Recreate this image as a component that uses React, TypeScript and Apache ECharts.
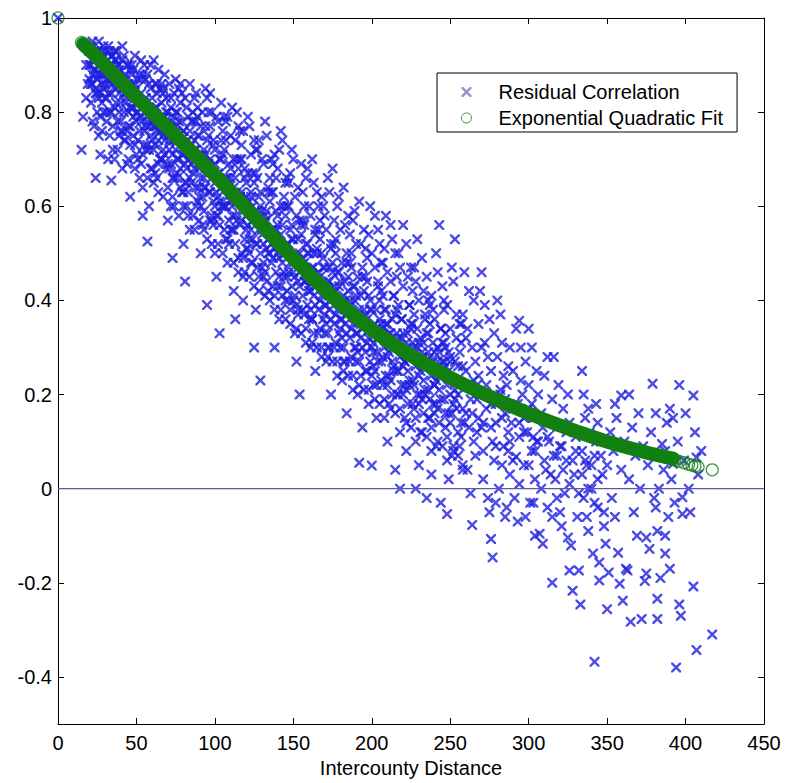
import React, { useEffect, useRef } from 'react';
import * as echarts from 'echarts';

const xTicks = [0, 50, 100, 150, 200, 250, 300, 350, 400, 450];
const yTicks = [-0.4, -0.2, 0, 0.2, 0.4, 0.6, 0.8, 1];

// Residual correlation samples: [distance, correlation]
const residualNear: number[][] = [
  [0,1],[16,.79],[15,.72],[18,.9],[19,.86],[20,.93],[21,.82],[22,.88],[23,.91],[24,.84],[24,.66],[17,.94],[22,.95],[25,.8],[20,.87],[23,.77],[18,.83],[25,.93],[21,.9],
  [26,.95],[27,.88],[28,.82],[29,.92],[30,.86],[31,.78],[32,.94],[33,.9],[34,.655],[34,.84],[26,.75],[28,.91],[30,.93],[31,.87],[33,.8],[35,.72],[29,.85],[27,.79],[32,.89],[35,.92],
  [36,.93],[37,.85],[38,.78],[39,.9],[40,.82],[41,.94],[42,.87],[43,.74],[44,.9],[45,.8],[36,.7],[38,.88],[40,.76],[41,.91],[43,.84],[44,.69],[39,.8],[42,.92],[37,.91],[45,.86],
  [46,.62],[46,.89],[47,.81],[48,.75],[49,.92],[50,.85],[51,.7],[52,.88],[53,.78],[54,.58],[54,.82],[55,.9],[47,.86],[49,.73],[50,.8],[52,.66],[53,.91],[55,.76],[48,.84],[51,.87],[46,.77],
  [56,.87],[57,.525],[57,.79],[58,.72],[59,.9],[60,.83],[61,.65],[62,.86],[63,.76],[64,.89],[65,.7],[56,.8],[58,.6],[60,.78],[61,.91],[63,.84],[64,.74],[59,.68],[62,.81],[65,.85],[57,.88],
  [66,.82],[67,.75],[68,.88],[69,.68],[70,.8],[71,.86],[72,.6],[73,.49],[73,.78],[74,.84],[75,.72],[66,.7],[68,.79],[70,.57],[71,.74],[72,.83],[74,.66],[75,.87],[67,.85],[69,.77],[73,.71],
  [76,.8],[77,.7],[78,.86],[79,.63],[80,.76],[81,.44],[81,.83],[82,.68],[83,.79],[84,.55],[85,.73],[76,.66],[78,.74],[79,.84],[80,.6],[82,.81],[83,.7],[84,.86],[85,.65],[77,.78],[80,.52],
  [86,.78],[87,.68],[88,.84],[89,.61],[90,.75],[91,.5],[92,.8],[93,.66],[94,.71],[95,.39],[95,.83],[86,.58],[88,.72],[89,.81],[90,.64],[91,.77],[93,.55],[94,.85],[87,.74],[92,.69],
  [96,.75],[97,.63],[98,.8],[99,.56],[100,.72],[101,.45],[102,.78],[103,.33],[103,.67],[104,.82],[105,.6],[96,.68],[97,.84],[99,.74],[100,.5],[101,.79],[102,.62],[104,.7],[105,.76],[98,.58]
];

const residualMid: number[][] = [
  [106,.72],[107,.6],[108,.79],[109,.52],[110,.68],[111,.81],[112,.42],[113,.74],[114,.63],[115,.77],[106,.55],[108,.66],[110,.75],[111,.58],[112,.7],[113,.36],[114,.8],[115,.49],[107,.78],[109,.64],
  [116,.7],[117,.57],[118,.76],[119,.46],[120,.65],[121,.79],[122,.53],[123,.71],[124,.6],[125,.3],[125,.74],[116,.62],[118,.4],[119,.68],[120,.55],[122,.77],[123,.63],[124,.48],[117,.73],[121,.67],
  [126,.67],[127,.52],[128,.74],[129,.23],[129,.6],[130,.7],[131,.45],[132,.78],[133,.57],[134,.64],[135,.5],[126,.38],[127,.72],[128,.62],[130,.55],[131,.69],[133,.75],[134,.42],[135,.66],[132,.58],
  [136,.63],[137,.49],[138,.71],[139,.55],[140,.68],[141,.36],[142,.6],[143,.74],[144,.45],[145,.65],[136,.52],[138,.3],[139,.66],[140,.58],[141,.72],[143,.51],[144,.62],[145,.4],[137,.69],[142,.76],
  [146,.6],[147,.46],[148,.67],[149,.53],[150,.7],[151,.33],[152,.58],[153,.64],[154,.2],[154,.5],[155,.69],[146,.42],[148,.55],[149,.72],[150,.48],[151,.62],[153,.38],[155,.56],[147,.65],[152,.27],
  [156,.57],[157,.44],[158,.66],[159,.5],[160,.6],[161,.3],[162,.7],[163,.47],[164,.55],[165,.63],[156,.38],[158,.52],[159,.68],[160,.42],[161,.58],[163,.65],[164,.25],[165,.5],[157,.6],[162,.36],
  [166,.55],[167,.4],[168,.62],[169,.47],[170,.58],[171,.27],[172,.66],[173,.44],[174,.52],[175,.68],[166,.33],[168,.5],[169,.6],[170,.37],[171,.55],[173,.63],[174,.2],[175,.46],[167,.57],[172,.3],
  [176,.52],[177,.37],[178,.6],[179,.43],[180,.55],[181,.23],[182,.64],[183,.4],[184,.5],[185,.58],[176,.3],[178,.46],[179,.62],[180,.34],[181,.48],[183,.56],[184,.16],[185,.42],[177,.53],[182,.27],
  [186,.48],[187,.34],[188,.57],[189,.4],[190,.52],[191,.2],[192,.61],[193,.36],[194,.47],[195,.55],[186,.27],[188,.43],[189,.59],[190,.3],[191,.45],[192,.055],[193,.52],[194,.13],[195,.38],[187,.5],
  [196,.45],[197,.31],[198,.54],[199,.38],[200,.049],[200,.5],[201,.22],[202,.58],[203,.34],[204,.44],[205,.52],[196,.25],[198,.41],[199,.6],[201,.29],[202,.47],[203,.15],[204,.55],[205,.36],[197,.49]
];

const residualFar: number[][] = [
  [206,.42],[207,.28],[208,.51],[209,.35],[210,.46],[211,.18],[212,.56],[213,.31],[214,.41],[215,.5],[206,.23],[208,.38],[209,.58],[210,.1],[211,.33],[212,.44],[213,.53],[214,.26],[215,.04],[207,.48],
  [216,.38],[217,.25],[218,0],[218,.47],[219,.32],[220,.43],[221,.15],[222,.52],[223,.29],[224,.39],[225,.47],[216,.2],[219,.36],[220,.56],[221,.27],[222,.08],[223,.45],[224,.22],[225,.34],[217,.5],
  [226,.35],[227,.22],[228,0],[228,.44],[229,.3],[230,.4],[231,.12],[232,.49],[233,.26],[234,.37],[235,-.02],[235,.45],[226,.18],[229,.53],[230,.05],[231,.32],[233,.42],[234,.2],[227,.47],[232,.28],
  [236,.33],[237,.19],[238,.41],[239,.27],[240,.36],[241,.09],[242,.46],[243,.56],[243,.24],[244,.34],[245,.43],[236,.15],[238,.03],[239,.38],[240,.22],[241,.5],[242,.3],[244,-.03],[245,.27],[237,.39],
  [246,.31],[247,.16],[248,-.054],[248,.39],[249,.25],[250,.34],[251,.07],[252,.44],[253,.53],[253,.21],[254,.32],[255,.12],[246,.4],[249,.02],[250,.28],[251,.47],[252,.18],[254,.37],[255,.26],[247,.3],
  [256,.29],[257,.14],[258,.37],[259,.22],[260,.32],[261,.04],[262,.42],[263,.19],[264,-.077],[264,.3],[265,.4],[256,.09],[258,.26],[259,.46],[260,.16],[261,.34],[263,-.01],[265,.23],[257,.35],
  [266,.27],[267,.12],[268,.35],[269,.2],[270,.46],[270,.3],[271,.02],[272,.39],[273,.17],[274,.28],[275,-.05],[275,.36],[266,.07],[268,.24],[269,.42],[271,.14],[272,.31],[274,-.02],[267,.22],
  [276,-.107],[277,-.146],[276,.25],[277,.1],[278,.33],[279,.18],[280,.28],[281,0],[282,.37],[283,.15],[284,.24],[285,-.06],[278,.06],[280,.4],[282,.21],[283,.31],[284,.09],[285,.19],[279,-.03],
  [286,-.04],[286,.22],[287,.08],[288,.3],[289,.14],[290,.25],[291,-.02],[292,.068],[292,.34],[293,.18],[294,.357],[294,.11],[295,.23],[288,.03],[290,.17],[293,-.07],[295,.3],[287,.26],
  [296,.2],[297,.05],[298,.27],[299,.12],[300,.22],[301,-.03],[302,.3],[303,.15],[304,.08],[305,.25],[298,-.06],[300,.34],[302,.18],[304,-.1],[305,.1],[307,-.096],[306,.2]
];

const residualTail: number[][] = [
  [308,.16],[309,-.117],[310,.24],[311,.04],[312,.28],[313,.1],[315,-.2],[315,.19],[316,.28],[317,.02],[318,.13],[319,.22],[320,-.05],[321,.09],[322,.17],[323,-.01],[324,.06],[325,-.104],[325,.2],[312,-.04],[318,.07],[326,.14],[327,-.121],[328,-.217],[326,-.174],
  [329,.03],[330,.11],[331,-.06],[332,-.174],[333,-.246],[334,.25],[334,.08],[335,-.02],[336,.15],[337,.05],[338,-.09],[339,.12],[340,0],[341,-.138],[342,-.368],[342,.07],[343,.18],[344,-.04],[345,-.157],[345,-.195],[346,.1],[347,.03],[348,-.08],[349,-.117],[350,-.256],[350,.05],[335,.2],[338,.17],[344,.14],
  [351,-.178],[352,.12],[353,-.02],[354,.08],[355,-.06],[356,.15],[357,-.136],[358,-.202],[359,.198],[359,.04],[360,-.238],[361,.1],[362,-.17],[363,-.174],[364,.02],[365,-.283],[366,.13],[367,-.05],[368,.07],[369,-.1],[370,.16],[371,0],[372,-.277],[373,.09],[374,-.196],[375,-.104],[375,-.18],[355,.18],[364,.2],
  [376,.05],[377,-.128],[378,.12],[379,.223],[380,-.02],[381,-.04],[381,.16],[382,-.277],[382,-.234],[382,-.09],[383,0],[384,-.19],[385,.095],[386,.04],[387,-.1],[387,-.138],[387,.08],[388,.14],[389,-.06],[390,.17],[390,-.17],[391,.02],[392,.15],[392,.053],[393,-.03],[394,-.38],[395,.1],[396,-.246],[396,.22],[397,-.27],[398,-.054],[398,-.018],[399,.06],
  [400,.16],[402,0],[403,-.05],[405,.198],[405,-.208],[406,.12],[407,.066],[407,-.343],[408,.03],[410,.08],[417,-.31],
  [300,.05],[302,.08],[304,.02],[306,.1],[308,0],[310,.06],[312,.11],[314,.03],[316,.07],[318,-.02],[320,.09],[322,.04],[324,.12],[326,.01],[328,.06],[330,.08],[332,-.01],[334,.03],[336,.06],[338,0],[340,.05],[342,-.03],[344,.02],[346,.07],[348,-.05],[303,-.03],[309,.13],[315,-.06],[321,-.08],[331,.12],[337,-.06],[343,.1],
  [287,.12],[283,.05],[279,.09],[271,.08],[265,.1],[258,.05],[252,.09],[262,.13],[268,.15],[276,.13],[290,.06],[294,.01],[297,.15],
  [255,.2],[258,.17],[261,.22],[264,.16],[267,.19],[270,.13],[273,.22],[276,.18],[279,.14],[282,.2],[285,.16],[288,.1],[291,.18],[294,.14],[297,.12],[300,.17],[303,.11]
];

const residualCore: number[][] = [
  [20,.9],[21,.94],[22,.86],[23,.89],[24,.92],[25,.87],[26,.9],[27,.84],[28,.93],[29,.88],[30,.9],[22,.91],[26,.83],[28,.86],[24,.88],
  [31,.89],[32,.84],[33,.87],[34,.92],[35,.86],[36,.81],[37,.88],[38,.9],[39,.84],[40,.87],[33,.93],[35,.9],[37,.82],[39,.89],[31,.83],
  [41,.85],[42,.8],[43,.88],[44,.83],[45,.77],[46,.85],[47,.9],[48,.79],[49,.86],[50,.82],[42,.84],[44,.76],[46,.81],[48,.89],[50,.78],
  [51,.8],[52,.76],[53,.84],[54,.88],[55,.73],[56,.83],[57,.78],[58,.86],[59,.75],[60,.8],[52,.82],[54,.71],[56,.77],[58,.81],[60,.74],
  [61,.77],[62,.73],[63,.81],[64,.69],[65,.79],[66,.76],[67,.84],[68,.71],[69,.8],[70,.75],[62,.67],[64,.78],[66,.86],[68,.74],[70,.69],
  [71,.72],[72,.77],[73,.66],[74,.74],[75,.8],[76,.7],[77,.75],[78,.64],[79,.78],[80,.71],[72,.69],[74,.79],[76,.74],[78,.68],[80,.76],
  [81,.69],[82,.74],[83,.63],[84,.71],[85,.78],[86,.67],[87,.72],[88,.6],[89,.75],[90,.68],[82,.65],[84,.76],[86,.71],[88,.78],[90,.62],
  [91,.66],[92,.71],[93,.59],[94,.68],[95,.74],[96,.63],[97,.7],[98,.57],[99,.73],[100,.65],[92,.62],[94,.77],[96,.69],[98,.66],[100,.6],
  [101,.63],[102,.67],[103,.56],[104,.64],[105,.71],[106,.6],[107,.66],[108,.53],[109,.69],[110,.61],[102,.58],[104,.74],[106,.65],[108,.62],[110,.55],
  [111,.6],[112,.64],[113,.52],[114,.61],[115,.68],[116,.56],[117,.63],[118,.49],[119,.66],[120,.58],[112,.55],[114,.7],[116,.62],[118,.59],[120,.51],
  [121,.56],[122,.61],[123,.48],[124,.57],[125,.65],[126,.52],[127,.59],[128,.45],[129,.63],[130,.54],[122,.5],[124,.67],[126,.58],[128,.55],[130,.47],
  [131,.52],[132,.57],[133,.44],[134,.53],[135,.61],[136,.48],[137,.55],[138,.41],[139,.59],[140,.5],[132,.46],[134,.63],[136,.55],[138,.51],[140,.43],
  [141,.49],[142,.54],[143,.41],[144,.5],[145,.58],[146,.45],[147,.52],[148,.38],[149,.56],[150,.46],[142,.43],[144,.6],[146,.52],[148,.48],[150,.4],
  [151,.45],[152,.5],[153,.37],[154,.46],[155,.54],[156,.41],[157,.48],[158,.34],[159,.52],[160,.43],[152,.39],[154,.57],[156,.49],[158,.44],[160,.36],
  [161,.42],[162,.47],[163,.33],[164,.43],[165,.51],[166,.38],[167,.45],[168,.3],[169,.49],[170,.39],[162,.36],[164,.54],[166,.46],[168,.41],[170,.33],
  [171,.39],[172,.44],[173,.3],[174,.4],[175,.48],[176,.35],[177,.42],[178,.27],[179,.46],[180,.36],[172,.33],[174,.51],[176,.43],[178,.38],[180,.3],
  [181,.36],[182,.41],[183,.27],[184,.37],[185,.45],[186,.32],[187,.39],[188,.24],[189,.43],[190,.33],[182,.3],[184,.48],[186,.4],[188,.35],[190,.27],
  [191,.33],[192,.38],[193,.24],[194,.34],[195,.42],[196,.29],[197,.36],[198,.21],[199,.4],[200,.3],[192,.27],[194,.45],[196,.37],[198,.32],[200,.24],
  [201,.31],[202,.35],[203,.22],[204,.32],[205,.4],[206,.27],[207,.34],[208,.19],[209,.38],[210,.28],[202,.25],[204,.43],[206,.35],[208,.3],[210,.22],
  [211,.29],[212,.33],[213,.2],[214,.3],[215,.37],[216,.25],[217,.32],[218,.17],[219,.36],[220,.26],[212,.23],[214,.41],[216,.33],[218,.28],[220,.2],
  [221,.27],[222,.31],[223,.18],[224,.28],[225,.35],[226,.23],[227,.3],[228,.15],[229,.34],[230,.24],[222,.21],[224,.39],[226,.31],[228,.26],[230,.18],
  [231,.25],[232,.29],[233,.16],[234,.26],[235,.33],[236,.21],[237,.28],[238,.13],[239,.31],[240,.22],[232,.19],[234,.36],[236,.29],[238,.24],[240,.16],
  [241,.23],[242,.27],[243,.14],[244,.24],[245,.31],[246,.19],[247,.26],[248,.11],[249,.29],[250,.2],[242,.17],[244,.34],[246,.27],[248,.22],[250,.14]
];

const residualDense: number[][] = [
  [21,.86],[23,.93],[25,.84],[27,.9],[29,.8],[22,.78],[26,.88],[28,.76],[24,.85],[30,.83],[27,.71],[29,.94],
  [31,.8],[33,.86],[35,.77],[37,.93],[39,.75],[32,.7],[34,.8],[36,.88],[38,.72],[40,.78],[33,.75],[36,.91],
  [41,.76],[43,.82],[45,.7],[47,.88],[49,.68],[42,.74],[44,.86],[46,.73],[48,.81],[50,.71],[41,.68],[45,.9],
  [51,.74],[53,.69],[55,.82],[57,.66],[59,.85],[52,.79],[54,.64],[56,.72],[58,.77],[60,.68],[53,.87],[57,.73],
  [61,.72],[63,.66],[65,.76],[67,.62],[69,.83],[62,.77],[64,.63],[66,.7],[68,.79],[70,.64],[63,.86],[67,.72],
  [71,.68],[73,.62],[75,.77],[77,.58],[79,.71],[72,.81],[74,.6],[76,.67],[78,.82],[80,.63],[73,.74],[77,.85],
  [81,.65],[83,.58],[85,.69],[87,.55],[89,.79],[82,.6],[84,.66],[86,.8],[88,.64],[90,.57],[83,.74],[87,.83],
  [91,.6],[93,.64],[95,.53],[97,.77],[99,.61],[92,.56],[94,.64],[96,.8],[98,.52],[100,.69],[93,.72],[97,.57],
  [101,.58],[103,.61],[105,.5],[107,.74],[109,.57],[102,.52],[104,.6],[106,.79],[108,.48],[110,.66],[103,.7],[107,.53],
  [111,.55],[113,.58],[115,.46],[117,.7],[119,.53],[112,.48],[114,.57],[116,.76],[118,.45],[120,.62],[113,.66],[117,.5],
  [121,.51],[123,.55],[125,.43],[127,.66],[129,.5],[122,.45],[124,.53],[126,.72],[128,.42],[130,.59],[123,.62],[127,.47],
  [131,.48],[133,.51],[135,.4],[137,.63],[139,.46],[132,.41],[134,.5],[136,.7],[138,.38],[140,.56],[133,.59],[137,.43],
  [141,.45],[143,.48],[145,.36],[147,.6],[149,.43],[142,.38],[144,.46],[146,.66],[148,.35],[150,.53],[143,.56],[147,.4],
  [151,.41],[153,.44],[155,.33],[157,.56],[159,.39],[152,.34],[154,.43],[156,.63],[158,.31],[160,.5],[153,.53],[157,.37],
  [161,.38],[163,.41],[165,.3],[167,.53],[169,.36],[162,.31],[164,.39],[166,.6],[168,.28],[170,.47],[163,.5],[167,.34],
  [171,.35],[173,.38],[175,.27],[177,.5],[179,.33],[172,.28],[174,.36],[176,.57],[178,.24],[180,.44],[173,.47],[177,.31],
  [181,.32],[183,.35],[185,.24],[187,.47],[189,.3],[182,.25],[184,.33],[186,.54],[188,.21],[190,.41],[183,.44],[187,.28],
  [191,.29],[193,.32],[195,.21],[197,.44],[199,.27],[192,.22],[194,.3],[196,.51],[198,.18],[200,.38],[193,.41],[197,.25],
  [201,.26],[203,.29],[205,.18],[207,.41],[209,.24],[202,.19],[204,.27],[206,.48],[208,.15],[210,.35],[203,.38],[207,.22],
  [211,.24],[213,.27],[215,.16],[217,.39],[219,.22],[212,.17],[214,.25],[216,.45],[218,.12],[220,.33],[213,.36],[217,.2],
  [221,.22],[223,.25],[225,.13],[227,.37],[229,.2],[222,.14],[224,.23],[226,.42],[228,.1],[230,.31],[223,.33],[227,.17],
  [231,.2],[233,.23],[235,.11],[237,.35],[239,.18],[232,.12],[234,.21],[236,.4],[238,.08],[240,.29],[233,.31],[237,.15],
  [241,.18],[243,.21],[245,.09],[247,.33],[249,.16],[242,.1],[244,.19],[246,.38],[248,.06],[250,.27],[243,.29],[247,.13],
  [251,.16],[253,.19],[255,.07],[257,.31],[259,.14],[252,.08],[254,.17],[256,.35],[258,.04],[260,.25],[253,.27],[257,.11]
];

// Exponential quadratic fit, read along the green band
const fitDistances = [16, 25, 50, 75, 100, 125, 150, 175, 200, 225, 250, 275, 300, 325, 350, 375, 392];
const fitValues = [0.945, 0.916, 0.832, 0.75, 0.666, 0.578, 0.49, 0.408, 0.338, 0.283, 0.236, 0.196, 0.16, 0.128, 0.1, 0.077, 0.064];

// Individually visible fit circles (ends of the band)
const fitCircleDistances = [0, 15, 17, 19, 380, 384, 387, 390, 393, 396, 399, 402, 404, 406, 408, 417];
const fitCircleValues = [1, 0.948, 0.942, 0.936, 0.073, 0.07, 0.067, 0.064, 0.061, 0.058, 0.055, 0.052, 0.05, 0.048, 0.046, 0.04];

const zeroLine = [[0, 0], [450, 0]];

const CROSS = 'path://M0,0L1.7,0L5,3.3L8.3,0L10,0L10,1.7L6.7,5L10,8.3L10,10L8.3,10L5,6.7L1.7,10L0,10L0,8.3L3.3,5L0,1.7Z';
const FONT = '"Liberation Sans", Arial, Helvetica, sans-serif';
const BLUE = '#1e1ee0';
const GREEN = '#118011';

export default function App() {
  const ref = useRef<HTMLDivElement>(null);
  useEffect(() => {
    if (!ref.current) return;
    const chart = echarts.init(ref.current, undefined, { renderer: 'svg' });
    const residuals = [...residualNear, ...residualMid, ...residualFar, ...residualTail, ...residualCore, ...residualDense];
    const fitLine = fitDistances.map((d, i) => [d, fitValues[i]]);
    const fitCircles = fitCircleDistances.map((d, i) => [d, fitCircleValues[i]]);
    const axisBase = {
      type: 'value' as const,
      axisLine: { show: true, onZero: false, lineStyle: { color: '#000', width: 1 } },
      splitLine: { show: false },
    };
    chart.setOption({
      animation: false,
      backgroundColor: '#ffffff',
      textStyle: { fontFamily: FONT },
      grid: { left: 58, right: 21, top: 18, bottom: 59, containLabel: false },
      xAxis: [
        {
          ...axisBase, position: 'bottom', min: 0, max: 450, interval: 50,
          axisTick: { inside: true, length: 6, lineStyle: { color: '#000' }, customValues: xTicks },
          axisLabel: { color: '#000', fontSize: 20, margin: 9, fontFamily: FONT, customValues: xTicks },
          name: 'Intercounty Distance', nameLocation: 'middle', nameGap: 33,
          nameTextStyle: { color: '#000', fontSize: 20, fontFamily: FONT },
        },
        {
          ...axisBase, position: 'top', min: 0, max: 450, interval: 50,
          axisTick: { inside: true, length: 6, lineStyle: { color: '#000' }, customValues: xTicks },
          axisLabel: { show: false },
        },
      ],
      yAxis: [
        {
          ...axisBase, position: 'left', min: -0.5, max: 1,
          axisTick: { inside: true, length: 6, lineStyle: { color: '#000' }, customValues: yTicks },
          axisLabel: {
            color: '#000', fontSize: 20, margin: 6, fontFamily: FONT, customValues: yTicks,
            formatter: (v: number) => String(Math.round(v * 10) / 10),
          },
        },
        {
          ...axisBase, position: 'right', min: -0.5, max: 1,
          axisTick: { inside: true, length: 6, lineStyle: { color: '#000' }, customValues: yTicks },
          axisLabel: { show: false },
        },
      ],
      legend: {
        orient: 'vertical', left: 437, top: 73,
        padding: [9, 14, 4, 24], itemGap: 6, itemWidth: 10, itemHeight: 10,
        backgroundColor: '#ffffff', borderColor: '#000', borderWidth: 1,
        selectedMode: false,
        textStyle: { color: '#000', fontSize: 20, fontFamily: FONT, padding: [0, 0, 0, 22] },
        data: [
          { name: 'Residual Correlation', icon: CROSS, itemStyle: { color: '#7a7ac0' } },
          { name: 'Exponential Quadratic Fit', icon: 'circle', itemStyle: { color: 'rgba(0,0,0,0)', borderColor: GREEN, borderWidth: 1 } },
        ],
      },
      series: [
        {
          name: 'Residual Correlation', type: 'scatter', data: residuals,
          symbol: CROSS, symbolSize: 10, clip: false, z: 2, silent: true,
          itemStyle: { color: BLUE },
        },
        {
          name: 'zero', type: 'line', data: zeroLine, symbol: 'none', z: 3, silent: true,
          lineStyle: { color: '#5858ac', width: 1.2 },
        },
        {
          name: 'Fit band', type: 'line', data: fitLine, smooth: 0.3, symbol: 'none', z: 4, silent: true,
          lineStyle: { color: GREEN, width: 14, cap: 'round', join: 'round' },
        },
        {
          name: 'Exponential Quadratic Fit', type: 'scatter', data: fitCircles,
          symbol: 'circle', symbolSize: 12, clip: false, z: 5, silent: true,
          itemStyle: { color: 'rgba(0,0,0,0)', borderColor: GREEN, borderWidth: 1.2 },
        },
      ],
    });
    return () => chart.dispose();
  }, []);
  return (
    <div
      ref={ref}
      style={{ position: 'fixed', left: 0, top: 0, width: 785, height: 783, background: '#fff' }}
    />
  );
}
